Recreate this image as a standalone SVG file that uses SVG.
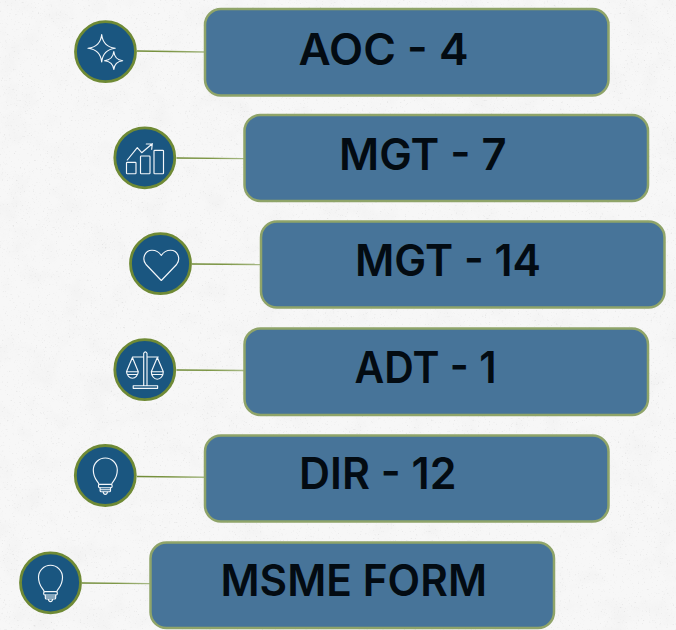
<svg xmlns="http://www.w3.org/2000/svg" width="676" height="630" viewBox="0 0 676 630">
<style>
.box{fill:#477499;stroke:#8fa469;stroke-width:2.5}
.disc{fill:#1a5680;stroke:#6f8a35;stroke-width:2.8}
.ico{fill:none;stroke:#f4f7fa;stroke-width:1.15;stroke-linejoin:round;stroke-linecap:round}
.lab{font-family:Inter,"Liberation Sans",sans-serif;font-size:43.500px;font-weight:600;fill:#030b12}
.con{fill:none;stroke:url(#fade);stroke-width:1.4}
</style>
<defs>
<linearGradient id="fade"><stop offset="0" stop-color="#6f8a35"/><stop offset="0.5" stop-color="#7f9848"/><stop offset="1" stop-color="#a9ba88"/></linearGradient>
<filter id="cloud" x="0" y="0" width="100%" height="100%"><feTurbulence type="fractalNoise" baseFrequency="0.035" numOctaves="4" seed="7"/><feColorMatrix values="0 0 0 0 0.55 0 0 0 0 0.55 0 0 0 0 0.55 0.9 0 0 0 -0.42"/></filter>
<filter id="speck" x="0" y="0" width="100%" height="100%"><feTurbulence type="fractalNoise" baseFrequency="0.55" numOctaves="2" seed="3"/><feColorMatrix values="0 0 0 0 0.35 0 0 0 0 0.35 0 0 0 0 0.35 3.6 0 0 0 -2.35"/></filter>
<g id="bulb" class="ico">
<path d="M-6.3 8.800C-7.300 5.600-12 3.500-12-5.500A12 12 0 0 1 12-5.500C12 3.500 7.300 5.600 6.300 8.800"/>
<rect x="-6.800" y="8.800" width="13.600" height="3.400" rx="1.200"/>
<path d="M-5.200 12.200V15.200Q-5.200 16.200-4 16.200H4Q5.200 16.200 5.200 15.200V12.200M-5.200 14.200H5.200M-2.200 16.200Q-2 18.800 0 18.800Q2 18.800 2.200 16.200"/>
</g>
</defs>
<rect id="paper" width="676" height="630" fill="#f7f7f7"/>
<rect width="676" height="630" filter="url(#cloud)" opacity="0.22"/>
<rect width="676" height="630" filter="url(#speck)" opacity="0.22"/>
<g id="connectors">
<path class="con" d="M137 51L205 52"/>
<path class="con" d="M176.500 158L244 158.600"/>
<path class="con" d="M192 264L261 264.500"/>
<path class="con" d="M176.500 370L244 370.500"/>
<path class="con" d="M137 476.500L205 477.200"/>
<path class="con" d="M82 583L150 583.600"/>
</g>
<g id="node-aoc">
<rect class="box" x="205" y="9" width="403.500" height="86.500" rx="16"/>
<circle class="disc" cx="105.500" cy="51.700" r="30"/>
<path class="ico" d="M101.700 34.500Q103 46.800 115.300 48.300Q103 49.800 101.700 62Q100.400 49.800 88 48.300Q100.400 46.800 101.700 34.500Z"/>
<path class="ico" style="fill:#1a5680" d="M113.800 51.500Q114.600 59.800 122.700 60.700Q114.600 61.600 113.800 69.500Q113 61.600 104.500 60.700Q113 59.800 113.800 51.500Z"/>
<text class="lab" x="298.500" y="64.500" textLength="170" lengthAdjust="spacingAndGlyphs">AOC - 4</text>
</g>
<g id="node-mgt7">
<rect class="box" x="244.500" y="115" width="403.500" height="86" rx="16"/>
<circle class="disc" cx="144.800" cy="157.800" r="30"/>
<path class="ico" d="M127.300 160L137.300 147.700L141.700 152.700L152.300 143.700M146.300 144L152.300 143.700L151.700 149.300"/>
<rect class="ico" x="126.500" y="162.300" width="9.500" height="11.400" rx="0.800"/>
<rect class="ico" x="140.500" y="156" width="9.500" height="17.700" rx="0.800"/>
<rect class="ico" x="154" y="150.300" width="9.500" height="23.400" rx="0.800"/>
<text class="lab" x="339" y="169.500" textLength="167.500" lengthAdjust="spacingAndGlyphs">MGT - 7</text>
</g>
<g id="node-mgt14">
<rect class="box" x="261" y="221.500" width="403.500" height="86" rx="16"/>
<circle class="disc" cx="160.500" cy="263.700" r="30"/>
<path class="ico" d="M161.300 280.500L146 264.500C141.500 259 144.700 250.200 152 250.200C156.300 250.200 159.500 252.500 161.300 255.500C163.100 252.500 166.300 250.200 170.600 250.200C178 250.200 181 259 176.600 264.500Z"/>
<text class="lab" x="355" y="275.500" textLength="186" lengthAdjust="spacingAndGlyphs">MGT - 14</text>
</g>
<g id="node-adt">
<rect class="box" x="244.500" y="328.500" width="403.500" height="86.500" rx="16"/>
<circle class="disc" cx="144.800" cy="369.700" r="30"/>
<path class="ico" d="M143.700 385.500V353.300Q145.300 350.300 147 353.300V385.500M133.200 385.700H157.600V388.300H133.200ZM132.500 357H143.700M147 357H158.300"/>
<path class="ico" d="M132.400 357.500L126.500 371.700H138.300ZM126.500 371.700A5.950 7.500 0 0 0 138.300 371.700M157.300 357.500L151.300 371.700H163.300ZM151.300 371.700A6 7.500 0 0 0 163.300 371.700"/>
<path class="ico" d="M127.500 374.500H137.300M152.300 374.500H162.300"/>
<text class="lab" x="354.500" y="382.500" textLength="142" lengthAdjust="spacingAndGlyphs">ADT - 1</text>
</g>
<g id="node-dir">
<rect class="box" x="205" y="435.500" width="403.500" height="86" rx="16"/>
<circle class="disc" cx="105.300" cy="475.500" r="30"/>
<use href="#bulb" x="105.300" y="475.500"/>
<text class="lab" x="299" y="488.500" textLength="157.500" lengthAdjust="spacingAndGlyphs">DIR - 12</text>
</g>
<g id="node-msme">
<rect class="box" x="150.500" y="542.500" width="403.500" height="85.500" rx="16"/>
<circle class="disc" cx="50.500" cy="582.800" r="30"/>
<use href="#bulb" x="50.500" y="582.800"/>
<text class="lab" x="220.500" y="595.500" textLength="266.500" lengthAdjust="spacingAndGlyphs">MSME FORM</text>
</g>
</svg>
